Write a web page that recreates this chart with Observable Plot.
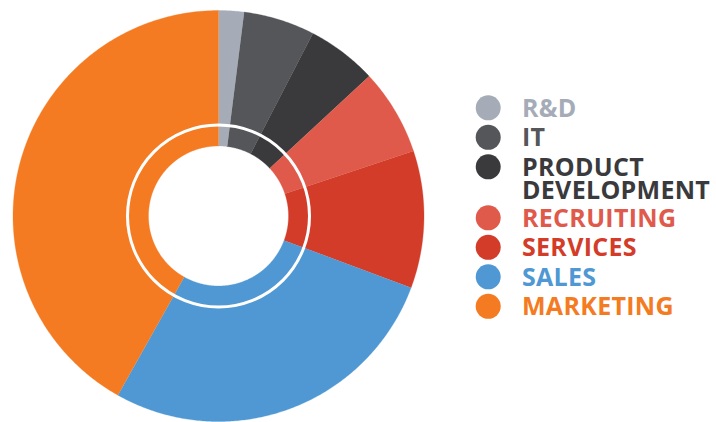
<!DOCTYPE html>
<html>
<head>
<meta charset="utf-8">
<script src="https://cdn.jsdelivr.net/npm/d3@7"></script>
<script src="https://cdn.jsdelivr.net/npm/@observablehq/plot@0.6"></script>
<style>
  html, body { margin: 0; padding: 0; background: #fff; }
  #chart svg { display: block; }
  #chart text { letter-spacing: 0.3px; }
</style>
</head>
<body>
<div id="chart"></div>
<script>
// ---- data ----
const categories = ["R&D", "IT", "PRODUCT\nDEVELOPMENT", "RECRUITING", "SERVICES", "SALES", "MARKETING"];
const shares = [2.0, 5.6, 5.5, 6.8, 10.8, 27.5, 41.9];
const colors = ["#a5acb8", "#545659", "#3a3a3d", "#e05a4b", "#d43c2a", "#4f98d3", "#f47b22"];

// ---- layout (pixels) ----
const W = 716, H = 422;
const cx = 218, cy = 215.5;
const outerR = 205.5, innerR = 70, ringR = 91;

// ---- slice polygons built from the shares ----
const total = d3.sum(shares);
const pts = [];
let acc = 0;
shares.forEach((v, i) => {
  const a0 = acc / total * 2 * Math.PI;
  acc += v;
  const a1 = acc / total * 2 * Math.PI;
  const n = Math.max(2, Math.ceil((a1 - a0) / (Math.PI / 360)));
  for (let k = 0; k <= n; k++) {
    const a = a0 + (a1 - a0) * k / n;
    pts.push({slice: i, color: colors[i], x: outerR * Math.sin(a), y: outerR * Math.cos(a)});
  }
  for (let k = n; k >= 0; k--) {
    const a = a0 + (a1 - a0) * k / n;
    pts.push({slice: i, color: colors[i], x: innerR * Math.sin(a), y: innerR * Math.cos(a)});
  }
});

// ---- legend rows ----
const legendX = 487.7 - cx, labelX = 521.5 - cx;
const rowStep = 29.5, extraLine = 21.5, firstRow = 107.3;
let rowPx = firstRow;
const legend = categories.map((c, i) => {
  const row = {label: c, color: colors[i], y: cy - rowPx};
  rowPx += rowStep + (c.split("\n").length - 1) * extraLine;
  return row;
});

const chart = Plot.plot({
  width: W,
  height: H,
  margin: 0,
  x: {domain: [-cx, W - cx], range: [0, W], axis: null},
  y: {domain: [cy - H, cy], range: [H, 0], axis: null},
  color: {type: "identity"},
  style: {fontFamily: "'Open Sans', sans-serif", background: "#fff"},
  marks: [
    Plot.line(pts, {x: "x", y: "y", z: "slice", fill: "color", stroke: "color", strokeWidth: 0.3, curve: "linear"}),
    Plot.dot([0], {x: () => 0, y: () => 0, r: ringR, stroke: "white", strokeWidth: 3, fill: "none"}),
    Plot.dot(legend, {x: () => legendX, y: "y", r: 12.5, fill: "color", stroke: null}),
    Plot.text(legend, {
      x: () => labelX, y: "y", text: "label", fill: "color",
      textAnchor: "start", lineAnchor: "top", dy: -7.5,
      fontSize: 25, fontWeight: 700, lineHeight: 0.94
    })
  ]
});
document.getElementById("chart").append(chart);
</script>
</body>
</html>
